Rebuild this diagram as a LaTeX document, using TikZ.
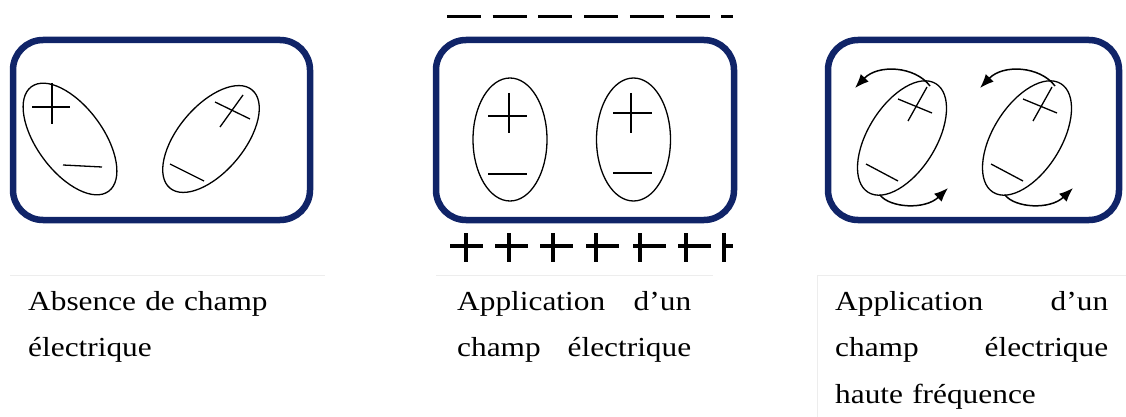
\documentclass[tikz,border=0pt]{standalone}
\usepackage{fontspec}
\setmainfont{Liberation Serif}[FakeStretch=1.14]
\usepackage{tikz}
\usetikzlibrary{arrows.meta}
\definecolor{boxblue}{RGB}{16,36,104}
\tikzstyle{es} = [-{Latex[length=14pt,width=11pt]}, line width=1.5pt]
\tikzstyle{cell} = [draw=boxblue, line width=6.5pt, rounded corners=30pt]
\tikzstyle{dipole} = [line width=1.3pt]
\tikzstyle{charge} = [line width=1.3pt]
\tikzstyle{rule} = [draw=black!7, line width=1pt]
\tikzstyle{caption} = [anchor=base west, inner sep=0pt, align=left, font=\fontsize{27.5pt}{46.7pt}\selectfont]

\begin{document}
\begin{tikzpicture}[yscale=-1]
			\useasboundingbox (0pt,0pt) rectangle (1126pt,417pt);
			% the three cells
			\draw[cell] (13pt,40pt) rectangle (310pt,220pt);
			\draw[cell] (436pt,40pt) rectangle (734pt,220pt);
			\draw[cell] (828pt,40pt) rectangle (1119pt,220pt);
			% no field
			\draw[dipole,rotate around={53.5:(70pt,139pt)}] (70pt,139pt) ellipse [x radius=65pt,y radius=33pt];
			\draw[charge] (32pt,107pt) -- (70pt,107pt) (52pt,83pt) -- (52pt,124pt);
			\draw[charge] (63pt,165pt) -- (102pt,167pt);
			\draw[dipole,rotate around={-50:(211pt,139pt)}] (211pt,139pt) ellipse [x radius=64pt,y radius=33pt];
			\draw[charge] (215pt,102pt) -- (250pt,119pt) (220pt,127pt) -- (243pt,95pt);
			\draw[charge] (170pt,164pt) -- (204pt,181pt);
			% static field
			\draw[line width=3pt,dash pattern=on 34pt off 11.7pt] (447pt,17pt) -- (733pt,17pt);
			\foreach \h/\v in {450/466,495/509,540/553,586/596,633/640,678/686}
				\draw[line width=3.5pt] (\h pt,246pt) -- ++(33pt,0pt) (\v pt,233pt) -- (\v pt,262pt);
			\draw[line width=3.5pt] (724pt,233pt) -- (724pt,262pt) (724pt,246pt) -- (733pt,246pt);
			\draw[dipole] (510pt,139.5pt) ellipse [x radius=37pt,y radius=61.5pt];
			\draw[charge] (488pt,116pt) -- (527pt,116pt) (509pt,93pt) -- (509pt,133pt);
			\draw[charge] (488pt,174pt) -- (527pt,174pt);
			\draw[dipole] (633.5pt,139.5pt) ellipse [x radius=37pt,y radius=61.5pt];
			\draw[charge] (613pt,113pt) -- (652pt,113pt) (631pt,93pt) -- (631pt,133pt);
			\draw[charge] (613pt,173pt) -- (652pt,173pt);
			% high frequency field
			\foreach \dx in {0pt,125pt} {
				\begin{scope}[xshift=\dx]
					\draw[dipole,rotate around={-58:(902pt,138pt)}] (902pt,138pt) ellipse [x radius=64pt,y radius=34pt];
					\draw[charge] (898pt,99pt) -- (932pt,113pt) (908pt,121pt) -- (927pt,87pt);
					\draw[charge] (866pt,164pt) -- (898pt,181pt);
					\draw[es] (930pt,86pt) .. controls (915pt,66pt) and (878pt,64pt) .. (855pt,88pt);
					\draw[es] (880pt,195pt) .. controls (890pt,208pt) and (925pt,210pt) .. (948pt,188pt);
				\end{scope}
			}
			% captions
			\draw[rule] (10pt,275pt) -- (325pt,275pt);
			\draw[rule] (436pt,275pt) -- (713pt,275pt);
			\draw[rule] (1126pt,275pt) -- (817pt,275pt) -- (817pt,417pt);
			\node[caption,text width=300pt] (absence) at (28pt,310pt) {Absence de champ\\électrique};
			\node[caption,text width=234pt] (statique) at (457pt,310pt) {Application\hfill d'un\\champ\hfill électrique};
			\node[caption,text width=273pt] (frequence) at (835pt,310pt) {Application\hfill d'un\\champ\hfill électrique\\haute fréquence};
		\end{tikzpicture}
\end{document}
